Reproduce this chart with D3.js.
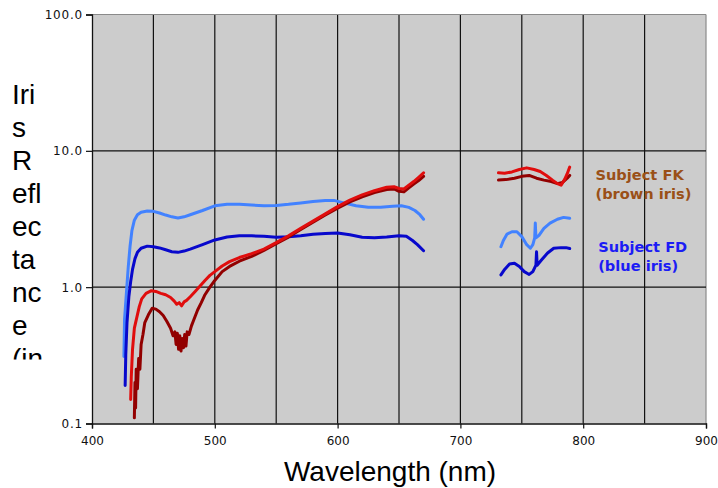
<!DOCTYPE html>
<html>
<head>
<meta charset="utf-8">
<script src="https://cdn.jsdelivr.net/npm/d3@7"></script>
<style>
  html, body { margin: 0; padding: 0; background: #ffffff; }
  svg { display: block; }
</style>
</head>
<body>
<svg id="chart" width="718" height="488"></svg>
<script>
// Axis ticks and gridlines
const xTicks = [400, 500, 600, 700, 800, 900];
const xGrid = [450, 500, 550, 600, 650, 700, 750, 800, 850, 900];
const yTicks = [0.1, 1, 10, 100];

// Subject FD (blue iris), first and second measurement: [wavelength nm, reflectance]
const fdA = [
  [426, 0.31], [426.5, 0.58], [428, 0.9], [429.5, 1.4], [431, 2.0], [432.5, 2.6], [434.5, 3.1],
  [437, 3.4], [440, 3.55], [445, 3.62], [450, 3.6], [455, 3.5], [460, 3.38], [465, 3.28],
  [470, 3.22], [475, 3.28], [480, 3.4], [490, 3.65], [500, 3.95], [510, 4.05], [520, 4.05],
  [530, 4.0], [540, 3.95], [550, 3.98], [560, 4.05], [570, 4.15], [580, 4.25], [590, 4.32],
  [597, 4.33], [605, 4.15], [615, 3.95], [625, 3.85], [635, 3.85], [645, 3.92], [652, 3.95],
  [658, 3.85], [663, 3.65], [667, 3.4], [670, 3.15]
];
const fdB = [
  [427, 0.19], [427.5, 0.32], [428.5, 0.55], [430, 0.85], [431.5, 1.1], [433, 1.35], [435, 1.62],
  [437, 1.8], [440, 1.93], [445, 2.0], [450, 1.98], [455, 1.94], [460, 1.88], [465, 1.82],
  [470, 1.8], [475, 1.84], [480, 1.9], [490, 2.05], [500, 2.22], [510, 2.33], [520, 2.38],
  [530, 2.38], [540, 2.36], [550, 2.32], [560, 2.34], [570, 2.38], [580, 2.44], [590, 2.48],
  [600, 2.5], [610, 2.42], [620, 2.32], [630, 2.3], [640, 2.33], [650, 2.38], [656, 2.36],
  [661, 2.2], [665, 2.05], [670, 1.85]
];

// Subject FK (brown iris), first and second measurement
const fkA = [
  [431.5, 0.15], [432, 0.22], [433, 0.35], [434.5, 0.5], [436.5, 0.6], [438.5, 0.72], [440.5, 0.82],
  [444, 0.9], [448, 0.94], [452, 0.93], [456, 0.9], [460, 0.88], [464, 0.84], [467, 0.79],
  [469, 0.75], [471, 0.77], [473, 0.73], [475, 0.78], [477, 0.8], [480, 0.85], [484, 0.93],
  [488, 1.02], [492, 1.12], [496, 1.22], [500, 1.3], [506, 1.43], [512, 1.54], [520, 1.65],
  [530, 1.76], [540, 1.9], [550, 2.12], [560, 2.38], [570, 2.7], [580, 3.05], [590, 3.45],
  [600, 3.9], [610, 4.35], [620, 4.75], [630, 5.1], [640, 5.4], [646, 5.45], [650, 5.3],
  [654, 5.25], [658, 5.6], [662, 5.95], [666, 6.4], [670, 6.9]
];
const fkB = [
  [434.5, 0.11], [435, 0.2], [435.5, 0.13], [436, 0.25], [437, 0.18], [438, 0.3], [439, 0.25],
  [440, 0.38], [441.5, 0.45], [443, 0.55], [446, 0.63], [449, 0.7], [452, 0.69], [455, 0.66],
  [458, 0.62], [461, 0.56], [464, 0.5], [466, 0.44], [467.5, 0.47], [468.5, 0.38], [469.5, 0.46],
  [470.5, 0.35], [471.5, 0.44], [472.5, 0.34], [473.5, 0.42], [474.5, 0.36], [475.5, 0.45],
  [476.5, 0.37], [477.5, 0.47], [479, 0.45], [481, 0.52], [483, 0.58], [486, 0.68], [489, 0.77],
  [492, 0.88], [496, 1.0], [500, 1.12], [506, 1.3], [512, 1.42], [520, 1.55], [530, 1.68],
  [540, 1.86], [550, 2.08], [560, 2.33], [570, 2.65], [580, 3.0], [590, 3.38], [600, 3.8],
  [610, 4.22], [620, 4.6], [630, 4.95], [640, 5.2], [646, 5.25], [650, 5.05], [654, 5.0],
  [658, 5.35], [662, 5.7], [666, 6.05], [670, 6.5]
];

// Short legend swatches, drawn in data space beside the labels
const fkAKey = [
  [731, 6.9], [736, 6.85], [742, 7.0], [748, 7.3], [754, 7.5], [760, 7.3], [765, 7.05],
  [770, 6.6], [775, 6.1], [779, 5.75], [782, 5.6], [785, 6.2], [787, 6.8], [789, 7.6]
];
const fkBKey = [
  [731, 6.1], [737, 6.15], [744, 6.3], [750, 6.5], [756, 6.6], [762, 6.3], [768, 6.1],
  [774, 5.95], [779, 5.75], [783, 5.85], [787, 6.3], [789, 6.6]
];
const fdAKey = [
  [733, 1.98], [735, 2.2], [738, 2.45], [742, 2.55], [746, 2.55], [750, 2.35], [754, 2.05],
  [757, 1.93], [759, 2.05], [760.5, 2.3], [761, 2.95], [761.5, 2.3], [764, 2.4], [768, 2.7],
  [773, 2.95], [779, 3.15], [784, 3.25], [789, 3.2]
];
const fdBKey = [
  [733, 1.23], [736, 1.35], [740, 1.48], [744, 1.5], [748, 1.42], [752, 1.3], [756, 1.24],
  [759, 1.3], [761.5, 1.45], [762, 1.82], [762.5, 1.45], [766, 1.58], [771, 1.78], [776, 1.93],
  [782, 1.95], [786, 1.95], [789, 1.92]
];

// Legend labels, anchored in data space (wavelength, reflectance of first baseline)
const legendLabels = [
  { lines: ["Subject FK", "(brown iris)"], color: "#9a5018", at: [810, 6.1] },
  { lines: ["Subject FD", "(blue iris)"], color: "#1c1cf5", at: [812.2, 1.8] }
];

const yTitleLines = ["Iri", "s", "R", "efl", "ec", "ta", "nc", "e", "(in"];

const svg = d3.select("#chart");
const x = d3.scaleLinear().domain([400, 900]).range([92, 706]);
const y = d3.scaleLog().domain([0.1, 100]).range([423.5, 14.5]);

// Plot background
svg.append("rect")
  .attr("x", x(400)).attr("y", y(100))
  .attr("width", x(900) - x(400)).attr("height", y(0.1) - y(100))
  .attr("fill", "#cccccc");

// Gridlines
svg.append("g").selectAll("line").data(xGrid).join("line")
  .attr("x1", d => x(d)).attr("x2", d => x(d))
  .attr("y1", y(100)).attr("y2", y(0.1))
  .attr("stroke", d => d === 900 ? "#8a8a8a" : "#111").attr("stroke-width", 1.2);
svg.append("g").selectAll("line").data(yTicks.filter(d => d > 0.1)).join("line")
  .attr("x1", x(400)).attr("x2", x(900))
  .attr("y1", d => y(d)).attr("y2", d => y(d))
  .attr("stroke", d => d === 100 ? "#8a8a8a" : "#111").attr("stroke-width", 1.2);

// Axes
const yAxis = svg.append("g").attr("transform", `translate(${x(400)},0)`)
  .call(d3.axisLeft(y).tickValues(yTicks).tickSize(6).tickPadding(3).tickFormat(d3.format(".1f")));
const xAxis = svg.append("g").attr("transform", `translate(0,${y(0.1)})`)
  .call(d3.axisBottom(x).tickValues(xTicks).tickSize(5).tickPadding(8).tickFormat(d3.format("d")));
[yAxis, xAxis].forEach(g => {
  g.select(".domain").attr("stroke", "#111").attr("stroke-width", 1.3);
  g.selectAll(".tick line").attr("stroke", "#111").attr("stroke-width", 1.2);
  g.selectAll("text").attr("fill", "#111")
    .style("font-family", "'DejaVu Sans', Verdana, sans-serif").style("font-size", "12px");
});
yAxis.selectAll("text").style("letter-spacing", "0.8px");

// Curves
const line = d3.line().x(d => x(d[0])).y(d => y(d[1])).curve(d3.curveLinear);
const series = [
  { data: fdA, color: "#4282ff" },
  { data: fdB, color: "#0808cc" },
  { data: fkB, color: "#920000" },
  { data: fkA, color: "#e00d0d" },
  { data: fdAKey, color: "#4282ff" },
  { data: fdBKey, color: "#0808cc" },
  { data: fkBKey, color: "#920000" },
  { data: fkAKey, color: "#e00d0d" }
];
svg.append("g").selectAll("path").data(series).join("path")
  .attr("d", d => line(d.data))
  .attr("fill", "none")
  .attr("stroke", d => d.color)
  .attr("stroke-width", 3)
  .attr("stroke-linejoin", "round")
  .attr("stroke-linecap", "round");

// Legend labels
legendLabels.forEach(l => {
  const lx = x(l.at[0]);
  const t = svg.append("text")
    .attr("x", lx)
    .attr("y", y(l.at[1]))
    .attr("fill", l.color)
    .style("font-family", "'DejaVu Sans', Verdana, sans-serif")
    .style("font-size", "14.6px").style("font-weight", "bold");
  l.lines.forEach((s, i) => t.append("tspan").attr("x", lx).attr("dy", i === 0 ? 0 : 18.5).text(s));
});

// Y-axis title, wrapped into a narrow clipped box
svg.append("clipPath").attr("id", "ytitle-clip")
  .append("rect").attr("x", 0).attr("y", 70).attr("width", 80).attr("height", 289.5);
const yTitle = svg.append("text")
  .attr("clip-path", "url(#ytitle-clip)")
  .attr("x", 12).attr("y", 104)
  .attr("fill", "#000")
  .style("font-family", "'Liberation Sans', Arial, sans-serif").style("font-size", "28px");
yTitleLines.forEach((s, i) => yTitle.append("tspan").attr("x", 12).attr("dy", i === 0 ? 0 : 33).text(s));

// X-axis title
svg.append("text")
  .attr("x", 390).attr("y", 481)
  .attr("text-anchor", "middle")
  .attr("fill", "#000")
  .style("font-family", "'Liberation Sans', Arial, sans-serif").style("font-size", "28px")
  .text("Wavelength (nm)");
</script>
</body>
</html>
